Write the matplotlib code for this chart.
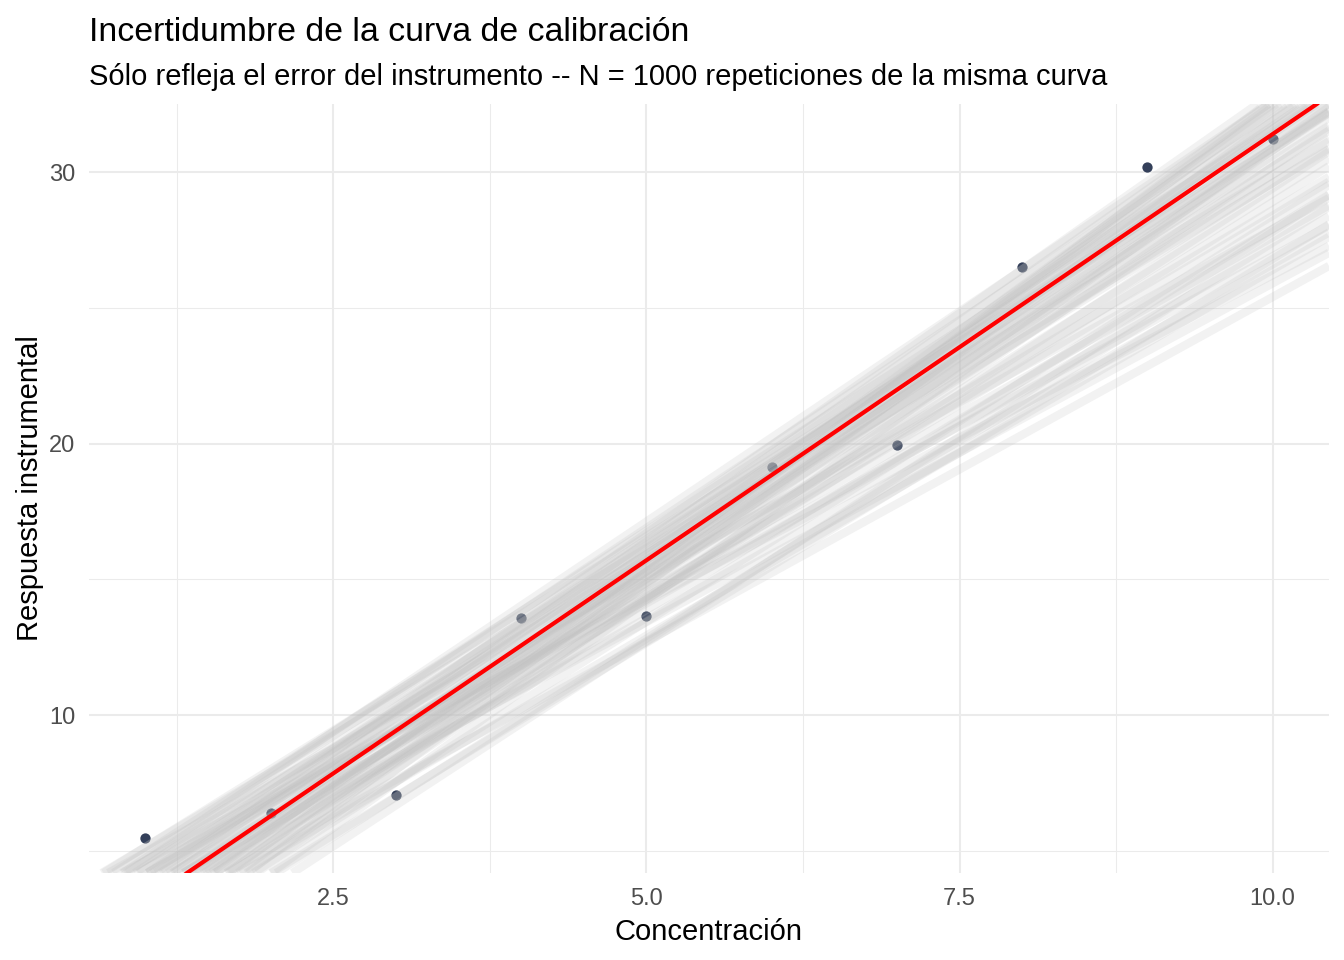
import numpy as np
import matplotlib
matplotlib.use("Agg")
import matplotlib.pyplot as plt

# puntos medidos (una de las curvas de calibración)
concentracion = [1, 2, 3, 4, 5, 6, 7, 8, 9, 10]
respuesta = [5.47, 6.39, 7.05, 13.57, 13.65, 19.12, 19.93, 26.50, 30.18, 31.22]

# curva de referencia (roja)
ref_intercepto = 0.0
ref_pendiente = 3.14

# rectas simuladas (muestra representativa de las 1000 repeticiones)
sim_intercepto = [
    0.000, 0.522, -0.522, 1.056, -1.044, 1.578, -1.533, 0.944, -0.956, 1.444,
    -1.444, 1.978, -2.278, 0.200, -0.167, 2.278, 1.867, 0.244, -0.389, 0.500,
    -2.144, 1.422, 0.556, -0.889, 1.644, -0.322, 0.578, -0.356, 0.989, -1.578,
    1.467, -0.900, 0.178, 2.389, -2.500, 0.978,
    -0.167, 1.533, -1.311, 1.022, -1.778, 2.389, 0.533, -0.556, 1.833, -2.378,
    0.944, 0.000, 2.244, -1.489,
]
sim_pendiente = [
    3.140, 3.118, 3.162, 3.084, 3.184, 3.062, 3.173, 2.996, 3.296, 2.896,
    3.384, 2.962, 3.418, 3.240, 3.007, 2.862, 2.773, 2.896, 2.929, 3.240,
    3.484, 2.718, 2.784, 3.029, 3.096, 3.262, 2.962, 3.096, 3.051, 3.318,
    2.973, 3.340, 3.062, 2.751, 3.340, 2.862,
    2.807, 2.607, 2.951, 2.618, 2.918, 2.551, 2.607, 2.696, 2.507, 3.018,
    2.496, 2.540, 2.396, 2.829,
]

xticks = [2.5, 5.0, 7.5, 10.0]
yticks = [10, 20, 30]

plt.rcParams["font.family"] = ["Liberation Sans", "DejaVu Sans"]

W, H = 1344, 960
fig = plt.figure(figsize=(W / 100, H / 100), dpi=100)
ax = fig.add_axes([89 / W, 1 - 873 / H, (1329 - 89) / W, (873 - 104) / H])

ax.scatter(concentracion, respuesta, s=55, color="#34405A", zorder=2, linewidths=0)

for a, b in zip(sim_intercepto, sim_pendiente):
    ax.axline((0, a), slope=b, color="#BEBEBE", alpha=0.2, linewidth=6, zorder=3,
              solid_capstyle="butt")

ax.axline((0, ref_intercepto), slope=ref_pendiente, color="#FF0000", linewidth=3.0, zorder=4)

# límites como ggplot (5 % de expansión)
xmin, xmax = min(concentracion), max(concentracion)
ymin, ymax = min(respuesta), max(respuesta)
ax.set_xlim(xmin - 0.05 * (xmax - xmin), xmax + 0.05 * (xmax - xmin))
ax.set_ylim(ymin - 0.05 * (ymax - ymin), ymax + 0.05 * (ymax - ymin))

ax.set_xticks(xticks)
ax.set_xticklabels([f"{v:.1f}" for v in xticks])
ax.set_yticks(yticks)
ax.set_xticks([1.25, 3.75, 6.25, 8.75], minor=True)
ax.set_yticks([5, 15, 25], minor=True)

ax.grid(which="major", color="#EBEBEB", linewidth=1.45)
ax.grid(which="minor", color="#EBEBEB", linewidth=0.75)
ax.set_axisbelow(True)
for sp in ax.spines.values():
    sp.set_visible(False)
ax.tick_params(which="both", length=0)
ax.tick_params(axis="x", labelsize=17, labelcolor="#4D4D4D", pad=11)
ax.tick_params(axis="y", labelsize=17, labelcolor="#4D4D4D", pad=10)

fig.text(89 / W, 1 - 41 / H, "Incertidumbre de la curva de calibración",
         fontsize=24.4, ha="left", va="baseline")
fig.text(89 / W, 1 - 85 / H,
         "Sólo refleja el error del instrumento -- N = 1000 repeticiones de la misma curva",
         fontsize=21, ha="left", va="baseline")
fig.text(709 / W, 1 - 940 / H, "Concentración", fontsize=21, ha="center", va="baseline")
fig.text(30 / W, 1 - 488 / H, "Respuesta instrumental", fontsize=21,
         rotation=90, ha="center", va="center")

fig.savefig("out.png", dpi=100, facecolor="white")
